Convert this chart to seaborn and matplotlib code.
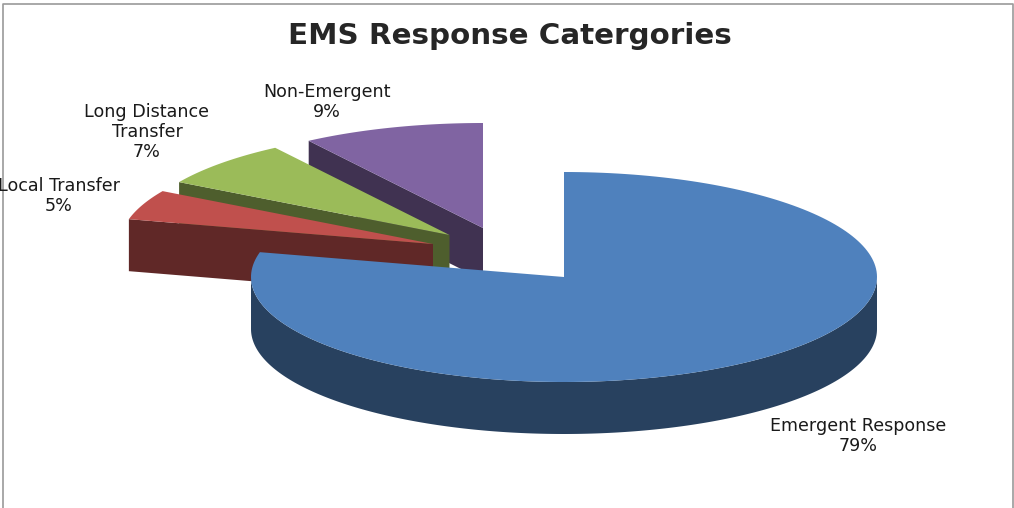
import numpy as np
import matplotlib
matplotlib.use("Agg")
import matplotlib.pyplot as plt
import seaborn as sns

title = "EMS Response Catergories"
categories = ["Emergent Response", "Local Transfer", "Long Distance\nTransfer", "Non-Emergent"]
values = [78.8, 4.6, 7.2, 9.4]

sns.set_theme(style="white")
plt.rcParams["font.family"] = ["DejaVu Sans"]
palette = sns.color_palette(["#4F81BD", "#C0504D", "#9BBB59", "#8064A2"])

W, H = 1014, 508
RX, RY, DEPTH = 313.0, 105.0, 52.0
centers = [(564, 277), (433, 244), (449.5, 235), (483, 228)]
label_pos = [(858, 436), (59, 196), (147, 132), (327, 102)]


def arc(cx, cy, a0, a1, n=200, dy=0.0):
    t = np.radians(np.linspace(a0, a1, n))
    return cx + RX * np.sin(t), cy - RY * np.cos(t) + dy


fig = plt.figure(figsize=(W / 100, H / 100), dpi=100)
ax = fig.add_axes([0, 0, 1, 1])
ax.set_xlim(0, W)
ax.set_ylim(H, 0)
ax.axis("off")

ax.plot([2.5, 2.5, 1012.5, 1012.5], [H, 3.5, 3.5, H], color="#9a9a9a", lw=1.2)

edges = np.cumsum([0] + values) / sum(values) * 360
slices = list(zip(edges[:-1], edges[1:], palette, centers))

for a0, a1, col, (cx, cy) in reversed(slices):
    dark = tuple(c * 0.5 for c in col)
    # outer rim: the part of the arc that faces the viewer (90..270 deg)
    r0, r1 = max(a0, 90), min(a1, 270)
    if r0 < r1:
        x, y = arc(cx, cy, r0, r1)
        xb, yb = arc(cx, cy, r1, r0, dy=DEPTH)
        ax.fill(np.r_[x, xb], np.r_[y, yb], color=dark, lw=0)
    # radial wall at the slice's leading edge, visible on the left side
    if a0 > 180:
        x, y = arc(cx, cy, a0, a0, n=1)
        ax.fill([x[0], cx, cx, x[0]], [y[0], cy, cy + DEPTH, y[0] + DEPTH], color=dark, lw=0)
    x, y = arc(cx, cy, a0, a1)
    ax.fill(np.r_[cx, x], np.r_[cy, y], color=col, lw=0)

for name, val, (lx, ly) in zip(categories, values, label_pos):
    ax.text(lx, ly, f"{name}\n{val:.0f}%", ha="center", va="center",
            fontsize=12.6, color="#1a1a1a", linespacing=1.17)

ax.text(509.5, 36, title, ha="center", va="center", fontsize=21.2,
        fontweight="bold", color="#262626")

fig.savefig("out.png", dpi=100)
